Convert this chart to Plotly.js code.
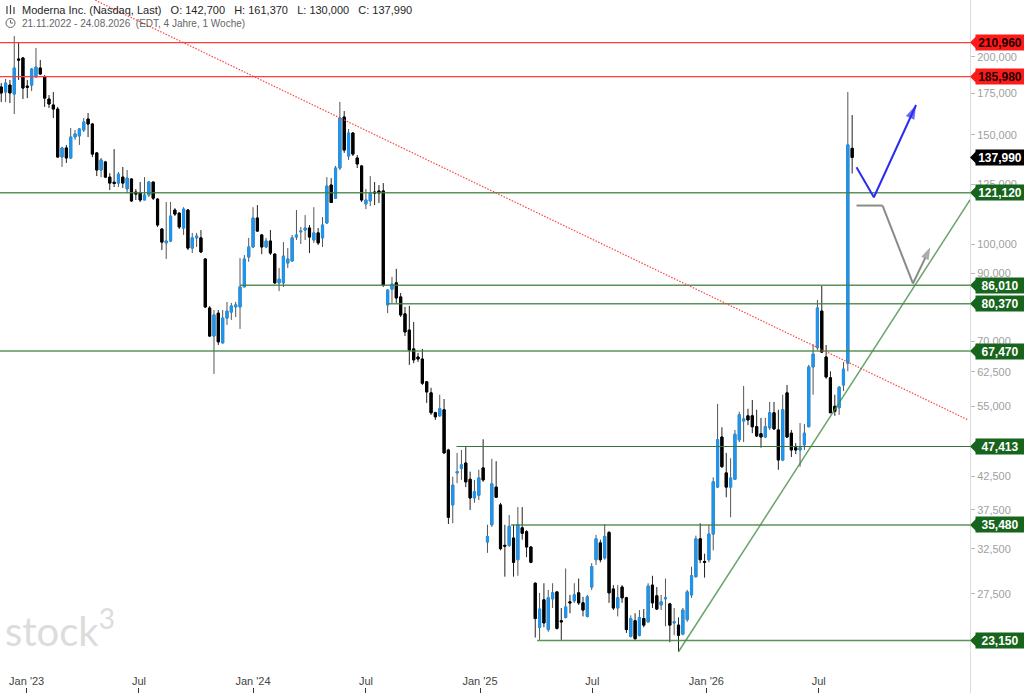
<!DOCTYPE html>
<html>
<head>
<meta charset="utf-8">
<script src="https://cdn.plot.ly/plotly-3.0.1.min.js"></script>
<style>html,body{margin:0;padding:0;background:#fff;}#chart{width:1024px;height:693px;}</style>
</head>
<body>
<div id="chart"></div>
<script>
// ---- weekly candles, Moderna Inc. (Nasdaq), first week 21.11.2022 ----
const firstWeek = '2022-11-21';
const openVals = [179.0,175.7,180.3,174.4,198.5,199.3,179.6,180.3,185.7,192.0,185.7,171.2,167.5,165.0,138.2,142.9,137.7,148.8,149.4,152.7,
159.0,156.1,140.3,131.7,135.7,128.3,125.9,125.5,128.3,122.8,127.4,121.4,121.0,117.9,120.1,126.0,118.3,105.9,100.6,101.3,
113.6,112.3,106.3,113.6,98.7,102.5,102.5,94.8,79.1,71.3,77.6,69.5,76.2,77.9,79.4,79.4,85.5,95.5,99.1,110.3,
103.6,99.1,101.3,96.5,86.8,86.8,93.4,94.1,102.8,104.8,105.5,106.3,101.7,104.4,102.5,108.3,124.6,118.7,132.7,160.2,
138.7,151.0,137.7,133.7,116.2,117.5,121.4,121.9,121.9,80.0,84.8,86.8,82.4,77.4,72.9,68.0,66.0,65.5,60.2,57.8,
53.7,53.1,54.3,46.8,38.2,43.0,43.7,44.6,42.0,39.2,39.6,43.8,33.3,35.5,40.8,38.2,32.9,32.9,33.8,31.2,
35.1,34.6,32.7,28.6,24.3,26.9,24.1,27.0,27.7,24.9,25.2,26.7,26.8,27.6,26.6,25.3,28.2,31.2,33.2,31.4,
34.5,28.0,26.1,28.2,27.1,23.5,24.9,23.6,25.1,24.8,28.4,27.3,26.4,27.0,26.5,24.7,24.5,23.7,25.0,27.4,
29.3,33.7,31.0,31.2,34.3,40.8,49.1,43.0,40.8,42.0,48.6,52.1,53.1,53.1,51.0,49.7,49.1,50.8,53.7,50.4,
45.1,57.8,49.8,47.2,46.8,47.7,51.0,63.6,68.3,78.2,66.0,61.1,55.0,54.7,59.5,64.5,142.7];
const highVals = [181.6,184.4,183.7,216.1,210.6,200.0,183.7,192.0,206.8,197.8,187.1,173.8,175.7,166.3,143.5,144.5,153.8,152.7,153.8,159.6,
162.6,156.7,140.8,137.7,136.2,130.2,142.3,130.7,133.2,131.7,127.8,122.8,126.0,128.3,126.4,126.0,118.7,106.3,117.0,117.0,
114.4,112.7,114.8,114.0,104.4,104.4,105.5,95.1,79.7,78.5,78.5,78.5,80.9,80.6,80.9,95.1,96.2,102.5,114.8,115.7,
104.0,102.5,105.5,96.9,91.7,100.9,98.7,103.6,113.6,106.7,111.5,107.5,114.8,106.3,110.7,128.3,127.8,133.7,169.4,163.8,
153.3,151.6,139.2,134.2,122.8,128.8,126.0,124.6,125.5,84.8,88.7,91.4,83.6,79.4,79.7,75.1,67.0,68.0,60.4,58.9,
53.9,57.4,56.5,47.0,42.4,46.3,46.8,47.3,43.2,41.9,43.5,48.7,35.5,45.3,44.9,38.5,35.5,36.8,35.5,37.9,
37.9,34.8,32.8,28.7,27.6,28.6,27.9,28.6,27.7,26.1,30.2,27.4,28.6,29.1,27.2,27.4,30.8,34.2,33.6,35.6,
34.7,28.4,28.4,28.4,27.2,25.4,25.6,25.9,26.0,28.6,29.4,28.2,27.4,29.1,26.6,26.1,25.2,26.1,27.9,30.4,
34.1,35.7,31.9,35.5,42.3,55.5,50.9,46.3,45.4,50.4,53.9,59.3,54.5,56.3,54.3,52.7,52.7,55.9,55.9,54.3,
57.4,59.5,50.4,48.0,51.7,51.5,64.1,69.2,81.5,85.9,69.0,62.6,57.4,59.3,64.8,175.7,161.37];
const lowVals = [169.3,169.3,168.7,162.0,183.7,171.2,171.8,176.4,185.7,187.1,166.3,165.6,159.6,137.7,133.2,135.2,137.2,147.2,144.5,151.6,
148.8,138.2,128.8,128.3,127.8,122.3,123.7,123.7,123.2,121.0,117.0,117.9,117.0,117.9,119.2,117.9,106.7,98.0,94.8,100.9,
111.1,105.9,103.6,98.0,96.9,99.1,96.9,79.1,71.1,62.0,69.0,69.5,74.3,75.7,76.5,73.2,85.5,93.8,98.7,104.8,
96.5,98.7,96.2,86.4,84.2,85.5,91.7,93.8,101.7,100.2,101.7,96.9,100.6,99.8,99.1,107.9,116.8,118.7,131.7,140.3,
136.7,138.7,132.7,117.0,114.0,115.3,115.7,116.6,85.5,77.6,80.6,80.6,76.5,71.3,64.1,64.5,64.8,59.5,55.7,53.3,
52.3,52.9,46.1,35.6,35.7,41.4,41.9,40.8,37.5,38.5,38.9,41.6,32.0,35.2,39.2,32.3,29.3,32.7,29.3,29.4,
33.6,31.5,30.8,23.4,23.2,24.3,23.9,26.1,24.1,23.2,25.1,25.6,26.6,26.4,25.3,25.2,27.9,30.6,30.9,31.2,
26.6,25.9,25.3,26.6,23.8,23.4,23.2,23.5,24.3,24.7,26.1,25.9,25.9,24.4,23.0,23.6,22.2,23.6,24.8,27.1,
29.2,30.8,29.2,30.9,32.3,40.7,43.8,39.3,36.5,41.9,48.2,48.2,51.3,49.8,49.1,47.2,48.9,50.4,50.4,43.5,
44.9,48.9,45.6,46.1,44.0,46.8,50.9,57.4,67.7,67.0,60.9,53.7,53.1,53.3,58.2,62.6,130.0];
const closeVals = [175.1,181.6,175.1,192.0,197.8,178.3,178.9,191.3,192.7,187.8,171.8,168.1,165.0,138.2,142.9,137.7,148.8,150.5,153.3,157.3,
156.1,139.7,131.7,136.7,128.3,125.5,125.3,129.7,125.5,127.8,117.5,120.5,117.9,120.1,126.0,118.7,107.5,100.9,101.3,111.1,
111.9,106.7,114.0,98.7,102.5,103.2,97.3,79.4,71.3,77.1,69.8,76.2,78.2,79.7,80.0,85.5,94.8,99.1,110.3,105.1,
99.1,101.3,96.9,86.8,88.0,95.8,94.8,102.5,103.6,105.1,106.3,102.8,104.4,100.6,107.5,124.1,116.8,132.7,159.6,141.8,
151.0,139.7,134.7,117.9,117.9,121.0,121.0,121.0,86.1,84.5,86.4,82.1,77.1,72.4,67.7,65.3,65.5,59.9,58.0,53.7,
52.9,54.5,46.3,36.5,41.1,43.2,44.3,41.6,39.2,40.1,42.2,41.9,34.0,41.3,39.3,32.5,32.8,35.3,30.9,35.5,
34.4,32.7,30.9,25.1,26.0,24.7,27.1,27.6,24.2,24.8,26.2,26.6,27.4,26.6,25.9,27.2,30.4,33.7,31.2,34.0,
27.6,26.1,27.1,27.1,24.1,25.1,23.3,25.2,24.5,28.3,26.6,26.0,26.7,27.1,24.5,24.8,23.6,25.9,27.7,29.4,
33.7,31.2,30.9,34.3,41.6,48.6,44.0,40.8,42.2,49.6,53.3,52.5,52.3,51.0,49.3,49.1,51.0,53.7,50.6,45.1,
54.3,49.1,46.8,46.8,47.2,49.8,63.6,66.7,79.1,67.2,61.3,53.7,54.0,59.0,63.1,144.5,137.99];

// ---- horizontal levels (value, start date of the line) ----
const xStart = '2022-11-19';
const xEnd = '2027-03-02';
const redLevels = [210.96, 185.98];
const greenLevels = [121.12, 86.01, 80.37, 67.47, 35.48, 23.15];
const greenLevelStarts = [xStart, '2023-12-11', '2024-08-05', xStart, '2025-02-20', '2025-04-03'];
const supportLevel = 47.413;
const supportStart = '2024-11-24';
const lastClose = 137.99;

// ---- trend lines and scenario paths ----
const downTrendDates = ['2023-04-13', '2027-02-27'];
const downTrendVals = [249.0, 52.29];
const upTrendDates = ['2025-11-17', '2027-03-02'];
const upTrendVals = [22.2, 117.9];
const bluePathDates = ['2026-08-31', '2026-09-28', '2026-12-05'];
const bluePathVals = [133.1, 119.1, 167.5];
const grayPathDates = ['2026-08-31', '2026-10-12', '2026-11-30', '2026-12-28'];
const grayPathVals = [115.5, 115.5, 86.6, 99.0];

// ---- axis ticks ----
const xTickVals = ['2023-01-01','2023-07-01','2024-01-01','2024-07-01','2025-01-01','2025-07-01','2026-01-01','2026-07-01'];
const xTickText = ["Jan '23","Jul","Jan '24","Jul","Jan '25","Jul","Jan '26","Jul"];
const yTickVals = [20, 27.5, 32.5, 37.5, 42.5, 55, 62.5, 70, 90, 100, 125, 150, 175, 200];

const fmt = v => v.toFixed(3).replace('.', ',');

// dates of the weekly candles
const dates = [];
{
  const t0 = Date.parse(firstWeek + 'T00:00:00Z');
  for (let i = 0; i < openVals.length; i++) {
    dates.push(new Date(t0 + i * 7 * 86400000).toISOString().slice(0, 10));
  }
}
const bodyHigh = openVals.map((o, i) => Math.max(o, closeVals[i]));
const bodyLow = openVals.map((o, i) => Math.min(o, closeVals[i]));

const BLUE = '#1e96f0';
const GREEN_LINE = 'rgba(62,128,62,0.85)';
const RED_LINE = '#ff3b3b';
const FONT = 'Liberation Sans, Arial, sans-serif';
const SP = '\u00a0\u00a0\u00a0';

const traces = [];
// horizontal level lines
redLevels.forEach(v => traces.push({type:'scatter', mode:'lines', x:[xStart, xEnd], y:[v, v],
  line:{color:RED_LINE, width:1.2}, hoverinfo:'skip'}));
greenLevels.forEach((v, k) => traces.push({type:'scatter', mode:'lines', x:[greenLevelStarts[k], xEnd], y:[v, v],
  line:{color:GREEN_LINE, width:1.5}, hoverinfo:'skip'}));
traces.push({type:'scatter', mode:'lines', x:[supportStart, xEnd], y:[supportLevel, supportLevel],
  line:{color:'#3d6e3d', width:1.1}, hoverinfo:'skip'});
// trend lines
traces.push({type:'scatter', mode:'lines', x:downTrendDates, y:downTrendVals,
  line:{color:'rgba(255,60,60,0.95)', width:1.2, dash:'1.5px,1.5px'}, hoverinfo:'skip'});
traces.push({type:'scatter', mode:'lines', x:upTrendDates, y:upTrendVals,
  line:{color:'rgba(70,140,70,0.8)', width:1.5}, hoverinfo:'skip'});
// scenario paths with arrow heads at their ends
traces.push({type:'scatter', mode:'lines+markers', x:bluePathDates, y:bluePathVals,
  line:{color:'#2b2bf2', width:2},
  marker:{symbol:'arrow', angleref:'previous', size:bluePathVals.map((v, k) => k === bluePathVals.length - 1 ? 15 : 0),
    color:'#2b2bf2', line:{width:0}},
  hoverinfo:'skip'});
traces.push({type:'scatter', mode:'lines+markers', x:grayPathDates, y:grayPathVals,
  line:{color:'#8a8a8a', width:2},
  marker:{symbol:'arrow', angleref:'previous', size:grayPathVals.map((v, k) => k === grayPathVals.length - 1 ? 13 : 0),
    color:'#8a8a8a', line:{width:0}},
  hoverinfo:'skip'});
// candles: wick layer then coloured body layer
traces.push({type:'candlestick', x:dates, open:openVals, high:highVals, low:lowVals, close:closeVals,
  increasing:{line:{color:'#555', width:1}, fillcolor:'#555'},
  decreasing:{line:{color:'#222', width:1}, fillcolor:'#222'},
  whiskerwidth:0, hoverinfo:'skip'});
traces.push({type:'candlestick', x:dates, open:openVals, high:bodyHigh, low:bodyLow, close:closeVals,
  increasing:{line:{color:BLUE, width:1}, fillcolor:BLUE},
  decreasing:{line:{color:'#000', width:1}, fillcolor:'#000'},
  whiskerwidth:0, hoverinfo:'skip'});

const annotations = [];
// right-hand value flags
const flags = [
  ...redLevels.map(v => ({v, bg:'#ff1a1a', fg:'#1a0000'})),
  {v:lastClose, bg:'#000', fg:'#fff'},
  ...[121.12, 86.01, 80.37, 67.47, supportLevel, 35.48, 23.15].map(v => ({v, bg:'#17641c', fg:'#fff'}))
];
flags.forEach(f => annotations.push({
  xref:'paper', x:1, yref:'y', y:Math.log10(f.v), text:'<b>' + fmt(f.v) + '</b>',
  showarrow:true, axref:'pixel', ayref:'pixel', ax:30, ay:0,
  arrowhead:1, arrowsize:1.3, arrowwidth:2, arrowcolor:f.bg, standoff:0,
  bgcolor:f.bg, borderpad:1, width:46, height:13, align:'center',
  font:{family:FONT, size:12, color:f.fg}
}));
// header
annotations.push({xref:'paper', yref:'paper', x:20/970, y:1 - 10/693, xanchor:'left', yanchor:'middle', showarrow:false,
  text:'Moderna Inc. (Nasdaq, Last)' + SP + 'O: 142,700' + SP + 'H: 161,370' + SP + 'L: 130,000' + SP + 'C: 137,990',
  font:{family:FONT, size:11, color:'#262626'}});
annotations.push({xref:'paper', yref:'paper', x:20/970, y:1 - 23/693, xanchor:'left', yanchor:'middle', showarrow:false,
  text:'21.11.2022 - 24.08.2026\u00a0\u00a0(EDT, 4 Jahre, 1 Woche)',
  font:{family:FONT, size:10, color:'#666'}});
// watermark
annotations.push({xref:'paper', yref:'paper', x:3/970, y:1 - 628/693, xanchor:'left', yanchor:'middle', showarrow:false,
  text:'stock<sup>3</sup>', font:{family:'Lato, Open Sans, sans-serif', size:40, color:'#dcdcdc'}});

const shapes = [
  // clock icon
  {type:'circle', xref:'paper', yref:'paper', x0:6/970, x1:15/970, y0:1 - 27.5/693, y1:1 - 18.5/693,
   line:{color:'#666', width:1}},
  {type:'line', xref:'paper', yref:'paper', x0:10.5/970, x1:10.5/970, y0:1 - 23/693, y1:1 - 20/693, line:{color:'#666', width:1}},
  {type:'line', xref:'paper', yref:'paper', x0:10.5/970, x1:13/970, y0:1 - 23/693, y1:1 - 23/693, line:{color:'#666', width:1}},
  // instrument icon
  {type:'line', xref:'paper', yref:'paper', x0:7/970, x1:7/970, y0:1 - 14/693, y1:1 - 6/693, line:{color:'#444', width:1.2}},
  {type:'line', xref:'paper', yref:'paper', x0:10.5/970, x1:10.5/970, y0:1 - 14/693, y1:1 - 5/693, line:{color:'#444', width:1.2}},
  {type:'line', xref:'paper', yref:'paper', x0:14/970, x1:14/970, y0:1 - 14/693, y1:1 - 7/693, line:{color:'#444', width:1.2}}
];

const layout = {
  width:1024, height:693,
  margin:{l:0, r:54, t:0, b:0},
  paper_bgcolor:'#fff', plot_bgcolor:'#fff',
  showlegend:false, separators:',.',
  font:{family:FONT},
  xaxis:{type:'date', range:[xStart, xEnd], rangeslider:{visible:false},
    tickvals:xTickVals, ticktext:xTickText, ticks:'inside', ticklen:5, tickcolor:'#333',
    ticklabelposition:'inside', tickfont:{size:11, color:'#444'},
    showgrid:false, zeroline:false, showline:false, fixedrange:true},
  yaxis:{type:'log', side:'right', range:[1.2802, 2.3925],
    tickvals:yTickVals, ticktext:yTickVals.map(fmt), ticks:'outside', ticklen:4, tickcolor:'#bbb',
    tickfont:{size:11, color:'#a0a0a0'}, showgrid:false, zeroline:false,
    showline:true, linecolor:'#dcdcdc', linewidth:1, fixedrange:true},
  annotations, shapes, hovermode:false
};

Plotly.newPlot('chart', traces, layout, {staticPlot:true, displayModeBar:false});
</script>
</body>
</html>
